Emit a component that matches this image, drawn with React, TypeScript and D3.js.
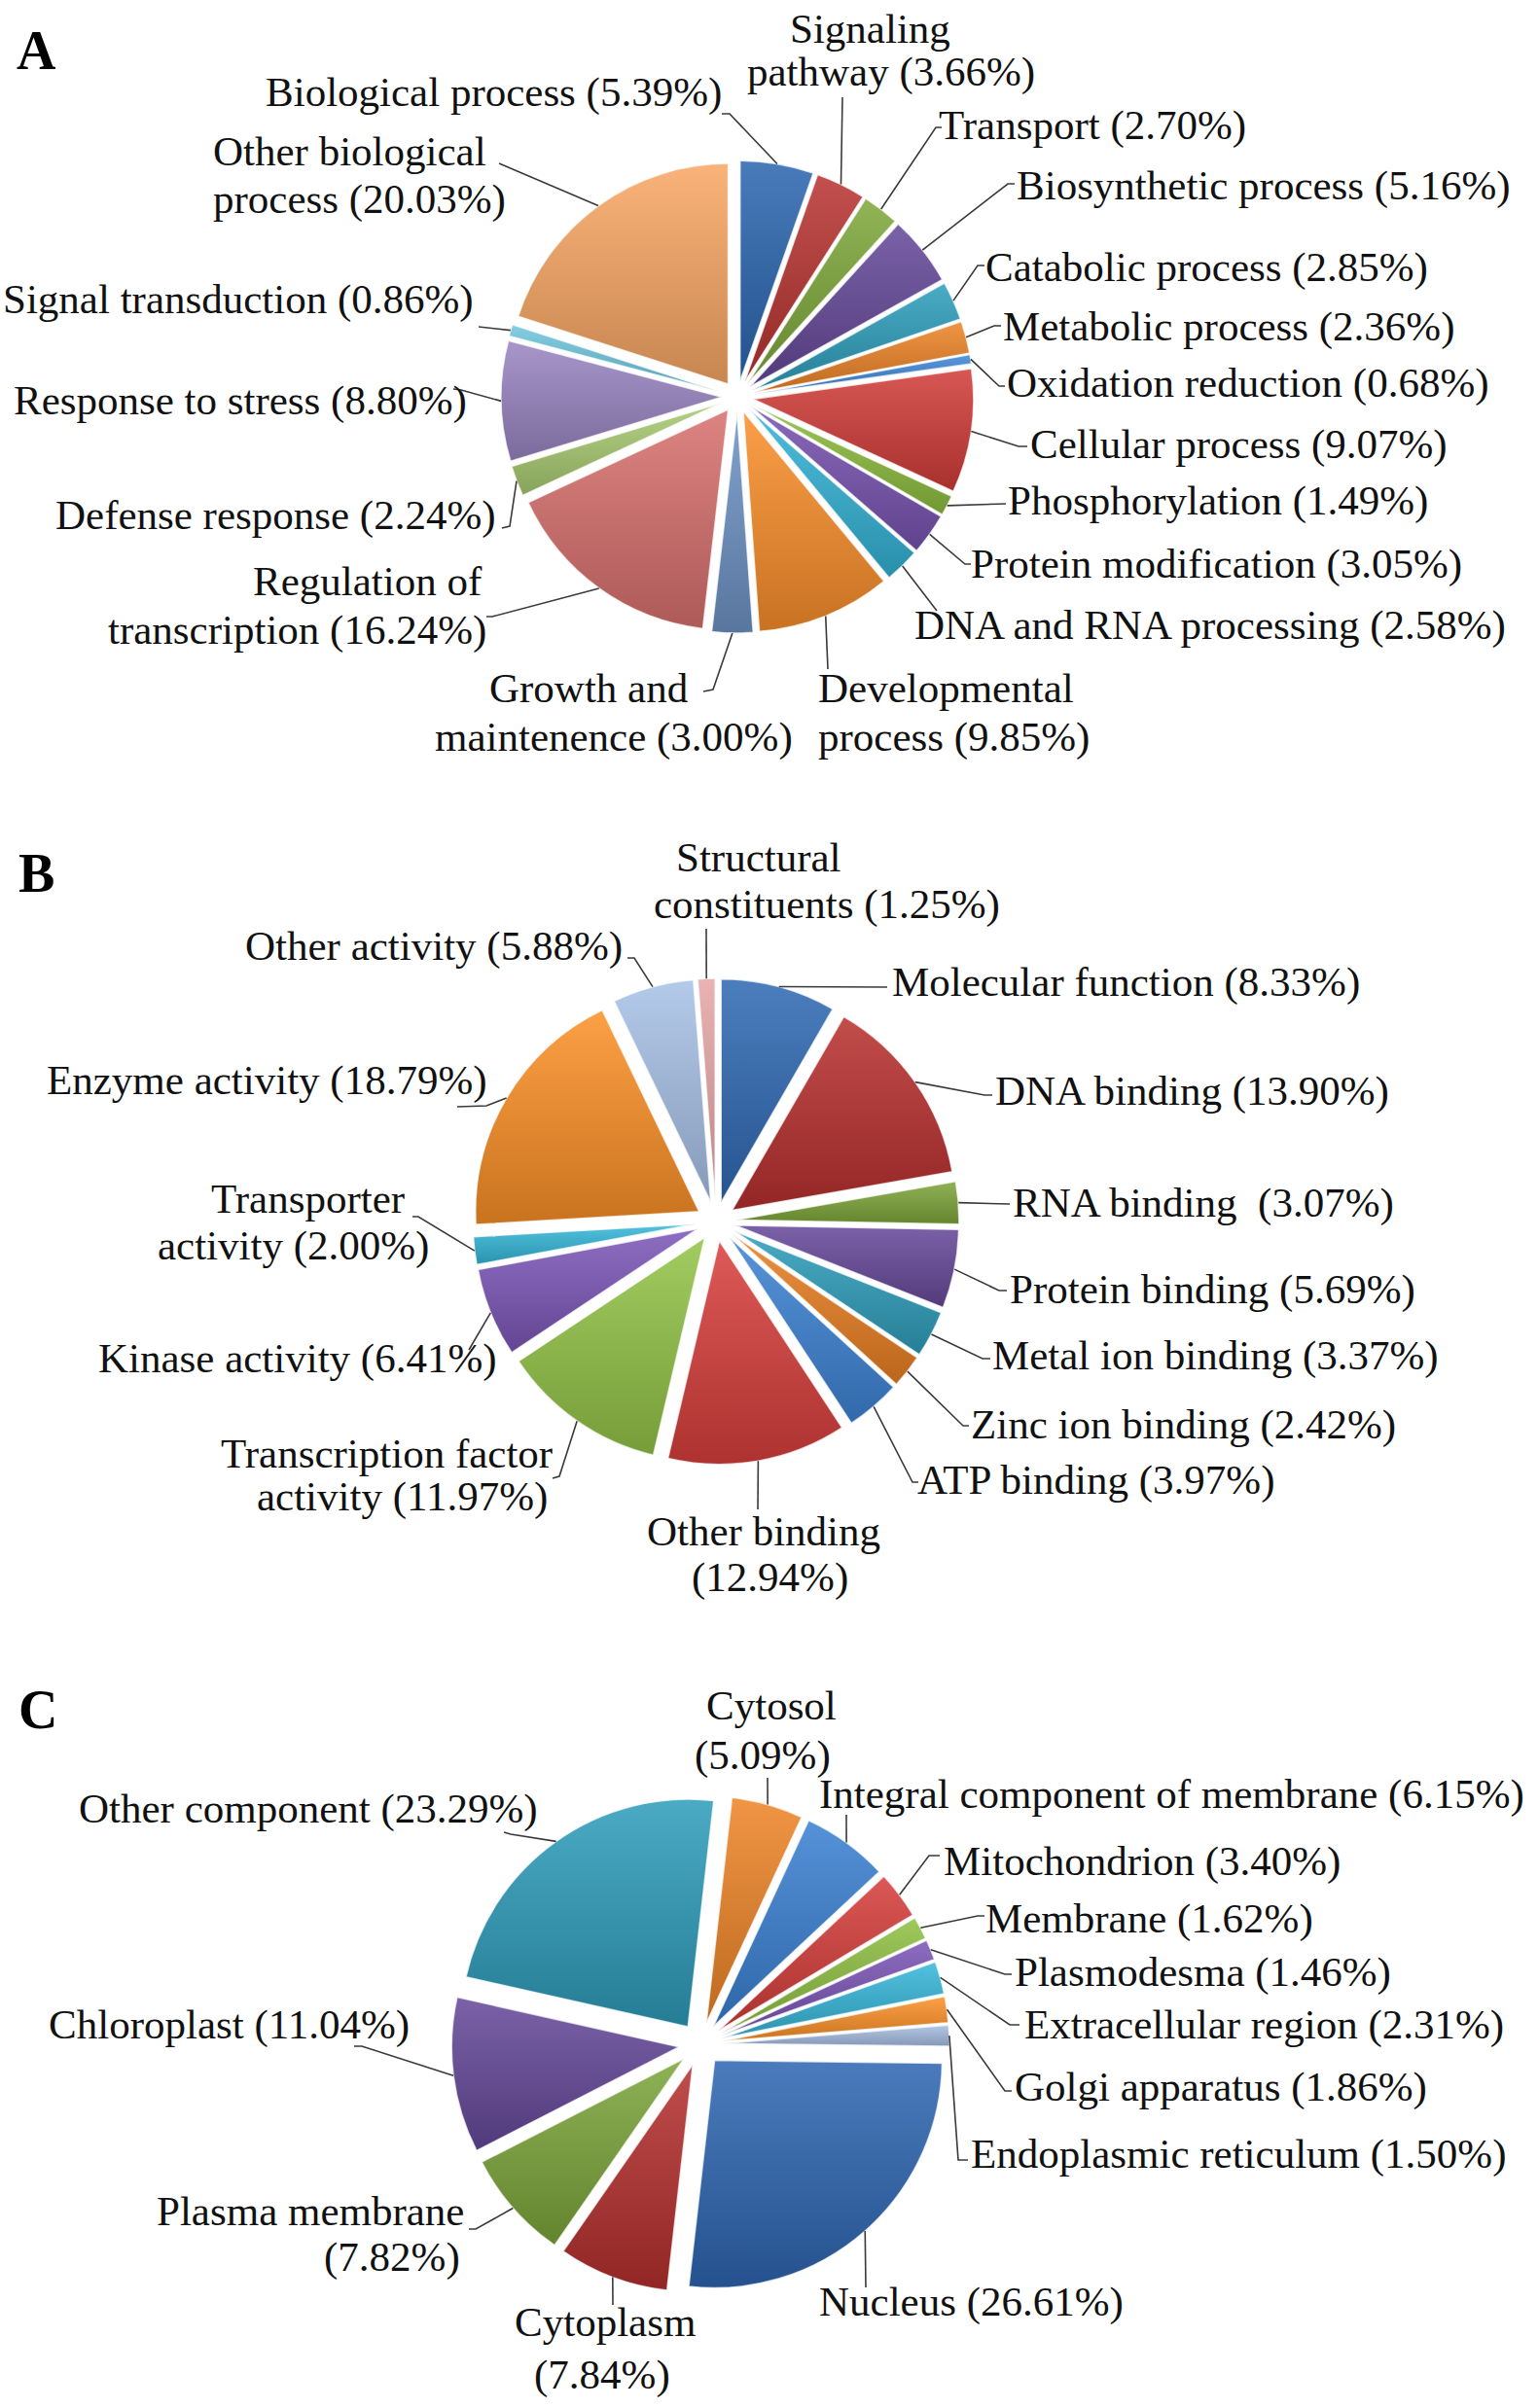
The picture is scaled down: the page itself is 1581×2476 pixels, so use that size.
import React from "react";
import * as d3 from "d3";

// ---------- DATA ----------
const bpNames = [
  "Biological process", "Signaling pathway", "Transport", "Biosynthetic process",
  "Catabolic process", "Metabolic process", "Oxidation reduction", "Cellular process",
  "Phosphorylation", "Protein modification", "DNA and RNA processing", "Developmental process",
  "Growth and maintenence", "Regulation of transcription", "Defense response",
  "Response to stress", "Signal transduction", "Other biological process",
];
const bpValues = [5.39, 3.66, 2.70, 5.16, 2.85, 2.36, 0.68, 9.07, 1.49, 3.05, 2.58, 9.85, 3.00, 16.24, 2.24, 8.80, 0.86, 20.03];
const bpColors = [
  "#2B66B0", "#B83431", "#7EA83A", "#65489A", "#2E9FBD", "#EE8427",
  "#3F86D6", "#D13C38", "#8DBE3F", "#7752B0", "#33B3D6", "#FA8F2B",
  "#6E93C6", "#D8706E", "#A9CC72", "#9A85C2", "#6FC7DE", "#F9A764",
];
const bpBreaks = [0, 1, 0, 0, 0, 0, 0, 0, 0, 0, 0, 1, 2, 2, 0, 0, 0, 2];

const mfNames = [
  "Molecular function", "DNA binding", "RNA binding ", "Protein binding", "Metal ion binding",
  "Zinc ion binding", "ATP binding", "Other binding", "Transcription factor activity",
  "Kinase activity", "Transporter activity", "Enzyme activity", "Other activity", "Structural constituents",
];
const mfValues = [8.33, 13.90, 3.07, 5.69, 3.37, 2.42, 3.97, 12.94, 11.97, 6.41, 2.00, 18.79, 5.88, 1.25];
const mfColors = [
  "#2F69B3", "#B8302E", "#7EA63A", "#66499A", "#2E9EBB", "#EA7F22", "#3D83D4",
  "#D83F3C", "#93C447", "#7C56B8", "#35B8DA", "#FB9027", "#A8C1E6", "#E7A7A6",
];
const mfBreaks = [0, 0, 0, 0, 0, 0, 0, 2, 2, 0, 1, 0, 0, 1];

const ccNames = [
  "Cytosol", "Integral component of membrane", "Mitochondrion", "Membrane", "Plasmodesma",
  "Extracellular region", "Golgi apparatus", "Endoplasmic reticulum", "Nucleus", "Cytoplasm",
  "Plasma membrane", "Chloroplast", "Other component",
];
const ccValues = [5.09, 6.15, 3.40, 1.62, 1.46, 2.31, 1.86, 1.50, 26.61, 7.84, 7.82, 11.04, 23.29];
const ccColors = [
  "#EE8427", "#3A80D2", "#D53D3A", "#8EC042", "#7B55B6", "#36B7DA", "#FB9128",
  "#A7BEE2", "#2E66B1", "#B5302E", "#7CA53A", "#65489A", "#2E9CBA",
];
const ccBreaks = [1, 0, 0, 0, 0, 0, 0, 0, 0, 1, 2, 0, 0];

// ---------- LAYOUT ----------
type Pt = [number, number];
interface LabelPos { lines: Pt[]; ln: Pt[] }

const pieA = { cx: 758, cy: 408, r: 227, explode: 16, start: 0, letter: "A", lx: 17, ly: 71 };
const pieB = { cx: 736, cy: 1256, r: 230, explode: 20, start: 0, letter: "B", lx: 19, ly: 917 };
const pieC = { cx: 720, cy: 2102, r: 234, explode: 22, start: (6.5 * Math.PI) / 180, letter: "C", lx: 19, ly: 1777 };

const bpLabels: LabelPos[] = [
  { lines: [[273, 109]], ln: [[750, 117], [742, 117]] },
  { lines: [[812, 44], [768, 88]], ln: [[866, 100]] },
  { lines: [[965, 143]], ln: [[962, 131], [968, 131]] },
  { lines: [[1045, 205]], ln: [[1036, 189], [1043, 189]] },
  { lines: [[1013, 289]], ln: [[1005, 273], [1012, 273]] },
  { lines: [[1031, 350]], ln: [[1022, 335], [1029, 335]] },
  { lines: [[1035, 408]], ln: [[1027, 397], [1033, 397]] },
  { lines: [[1059, 471]], ln: [[1047, 459], [1056, 459]] },
  { lines: [[1036, 529]], ln: [[1034, 518]] },
  { lines: [[998, 594]], ln: [[992, 580], [998, 580]] },
  { lines: [[940, 657]], ln: [[963, 628]] },
  { lines: [[841, 722], [841, 772]], ln: [[851, 688]] },
  { lines: [[503, 722], [447, 772]], ln: [[733, 709], [723, 711]] },
  { lines: [[260, 612], [111, 662]], ln: [[506, 634], [500, 634]] },
  { lines: [[57, 544]], ln: [[524, 541], [516, 543]] },
  { lines: [[14, 426]], ln: [[474, 401], [466, 400]] },
  { lines: [[3, 322]], ln: [[492, 336]] },
  { lines: [[219, 170], [219, 219]], ln: [[513, 168]] },
];

const mfLabels: LabelPos[] = [
  { lines: [[917, 1024]], ln: [[912, 1015]] },
  { lines: [[1023, 1136]], ln: [[1012, 1126], [1020, 1126]] },
  { lines: [[1041, 1251]], ln: [[1038, 1238]] },
  { lines: [[1038, 1340]], ln: [[1027, 1327], [1035, 1327]] },
  { lines: [[1020, 1408]], ln: [[1010, 1397], [1018, 1397]] },
  { lines: [[998, 1479]], ln: [[990, 1466], [996, 1466]] },
  { lines: [[943, 1536]], ln: [[938, 1524], [944, 1524]] },
  { lines: [[665, 1589], [711, 1636]], ln: [[779, 1552]] },
  { lines: [[227, 1509], [264, 1553]], ln: [[575, 1518], [568, 1520]] },
  { lines: [[101, 1411]], ln: [[482, 1388]] },
  { lines: [[217, 1247], [162, 1295]], ln: [[430, 1251], [424, 1251]] },
  { lines: [[48, 1125]], ln: [[500, 1137], [470, 1138]] },
  { lines: [[252, 987]], ln: [[652, 985], [645, 985]] },
  { lines: [[695, 896], [672, 944]], ln: [[726, 955]] },
];

const ccLabels: LabelPos[] = [
  { lines: [[726, 1768], [714, 1819]], ln: [[789, 1828]] },
  { lines: [[842, 1859]], ln: [[870, 1866]] },
  { lines: [[970, 1928]], ln: [[955, 1908], [966, 1908]] },
  { lines: [[1013, 1987]], ln: [[1005, 1970], [1012, 1970]] },
  { lines: [[1043, 2042]], ln: [[1033, 2030], [1040, 2030]] },
  { lines: [[1053, 2096]], ln: [[1038, 2082], [1048, 2082]] },
  { lines: [[1043, 2160]], ln: [[1033, 2150], [1040, 2150]] },
  { lines: [[998, 2229]], ln: [[985, 2221], [995, 2221]] },
  { lines: [[842, 2381]], ln: [[890, 2352]] },
  { lines: [[529, 2402], [549, 2456]], ln: [[630, 2370]] },
  { lines: [[161, 2288], [333, 2335]], ln: [[489, 2292], [482, 2292]] },
  { lines: [[50, 2096]], ln: [[372, 2104], [364, 2104]] },
  { lines: [[81, 1874]], ln: [[525, 1886], [518, 1884]] },
];

const FONT = "'Liberation Serif', 'Times New Roman', Times, serif";
const FS = 43;

function splitLabel(name: string, v: number, b: number): string[] {
  const text = `${name} (${v.toFixed(2)}%)`;
  if (!b) return [text];
  const w = text.split(" ");
  return [w.slice(0, b).join(" "), w.slice(b).join(" ")];
}

interface PieProps {
  id: string;
  cfg: typeof pieA;
  names: string[];
  values: number[];
  colors: string[];
  breaks: number[];
  labels: LabelPos[];
}

function Pie({ id, cfg, names, values, colors, breaks, labels }: PieProps) {
  const pie = d3
    .pie<number>()
    .sort(null)
    .value((d) => d)
    .startAngle(cfg.start)
    .endAngle(cfg.start + 2 * Math.PI);
  const arcs = pie(values);
  const arc = d3.arc<d3.PieArcDatum<number>>().innerRadius(0).outerRadius(cfg.r);
  return (
    <g>
      <defs>
        {colors.map((c, i) => {
          const top = d3.interpolateRgb(c, "#ffffff")(0.14);
          const bot = d3.interpolateRgb(c, "#000000")(0.2);
          return (
            <linearGradient key={i} id={`${id}-g${i}`} x1="0" y1="0" x2="0" y2="1">
              <stop offset="0" stopColor={top} />
              <stop offset="1" stopColor={bot} />
            </linearGradient>
          );
        })}
      </defs>
      {arcs.map((a, i) => {
        const mid = (a.startAngle + a.endAngle) / 2;
        const ox = cfg.explode * Math.sin(mid);
        const oy = -cfg.explode * Math.cos(mid);
        return (
          <path
            key={i}
            d={arc(a) || ""}
            transform={`translate(${cfg.cx + ox},${cfg.cy + oy})`}
            fill={`url(#${id}-g${i})`}
            stroke="rgba(255,255,255,0.75)"
            strokeWidth={1.6}
            strokeLinejoin="round"
          />
        );
      })}
      {arcs.map((a, i) => {
        const mid = (a.startAngle + a.endAngle) / 2;
        const rr = cfg.r + cfg.explode;
        const sx = cfg.cx + rr * Math.sin(mid);
        const sy = cfg.cy - rr * Math.cos(mid);
        const pts: Pt[] = [[sx, sy], ...labels[i].ln];
        const line = d3.line<Pt>()(pts) || "";
        return <path key={`l${i}`} d={line} fill="none" stroke="#3a3a3a" strokeWidth={1.6} />;
      })}
      {arcs.map((a, i) => {
        const lines = splitLabel(names[i], values[i], breaks[i]);
        return (
          <g key={`t${i}`}>
            {lines.map((t, j) => (
              <text
                key={j}
                x={labels[i].lines[j][0]}
                y={labels[i].lines[j][1]}
                fontFamily={FONT}
                fontSize={FS}
                fill="#111"
                style={{ whiteSpace: "pre" }}
              >
                {t}
              </text>
            ))}
          </g>
        );
      })}
      <text x={cfg.lx} y={cfg.ly} fontFamily={FONT} fontSize={56} fontWeight="bold" fill="#000">
        {cfg.letter}
      </text>
    </g>
  );
}

export default function App() {
  return (
    <div style={{ position: "absolute", left: 0, top: 0 }}>
      <svg width={1581} height={2476} viewBox="0 0 1581 2476" style={{ display: "block", background: "#fff" }}>
        <rect width={1581} height={2476} fill="#fff" />
        <Pie id="bp" cfg={pieA} names={bpNames} values={bpValues} colors={bpColors} breaks={bpBreaks} labels={bpLabels} />
        <Pie id="mf" cfg={pieB} names={mfNames} values={mfValues} colors={mfColors} breaks={mfBreaks} labels={mfLabels} />
        <Pie id="cc" cfg={pieC} names={ccNames} values={ccValues} colors={ccColors} breaks={ccBreaks} labels={ccLabels} />
      </svg>
    </div>
  );
}
